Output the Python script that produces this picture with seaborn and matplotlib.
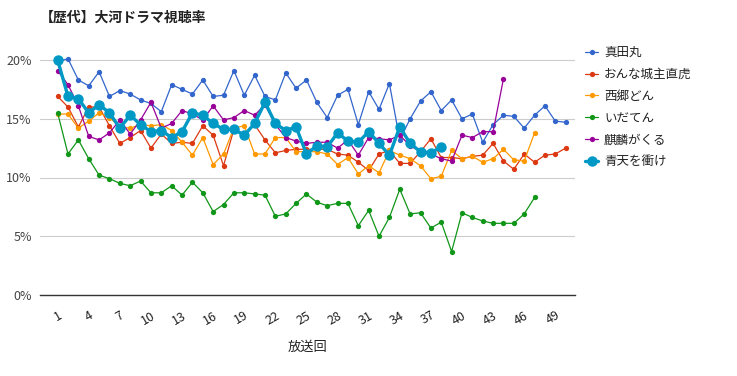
import numpy as np
import pandas as pd
import matplotlib
matplotlib.use('Agg')
import matplotlib.pyplot as plt
import seaborn as sns
from matplotlib.ticker import FuncFormatter, FixedLocator
from matplotlib.lines import Line2D

# 視聴率 (%) per episode
sanadamaru = [19.9, 20.1, 18.3, 17.8, 19.0, 16.9, 17.4, 17.1, 16.6, 16.3,
              15.6, 17.9, 17.5, 17.1, 18.3, 16.9, 17.0, 19.1, 17.0, 18.7,
              16.9, 16.6, 18.9, 17.6, 18.3, 16.4, 15.1, 17.0, 17.5, 14.5,
              17.3, 15.8, 18.0, 13.2, 15.0, 16.5, 17.3, 15.7, 16.6, 15.0,
              15.4, 13.0, 14.5, 15.3, 15.2, 14.2, 15.3, 16.1, 14.8, 14.7]
naotora = [16.9, 16.0, 14.3, 16.0, 16.0, 14.4, 12.9, 13.4, 14.0, 12.5,
           13.7, 12.9, 13.0, 12.9, 14.4, 13.6, 11.0, 14.1, 13.6, 14.5,
           13.2, 12.1, 12.3, 12.4, 12.4, 12.4, 12.4, 12.0, 11.9, 11.3,
           10.6, 12.0, 12.3, 11.2, 11.2, 12.2, 13.3, 11.7, 11.7, 11.6,
           11.8, 11.9, 12.9, 11.4, 10.7, 12.0, 11.3, 11.9, 12.0, 12.5]
segodon = [15.4, 15.4, 14.2, 14.8, 15.5, 15.1, 14.3, 14.2, 14.5, 14.4,
           14.5, 14.0, 13.0, 11.9, 13.4, 11.1, 12.0, 14.2, 14.4, 12.0,
           12.0, 13.4, 13.4, 12.2, 12.2, 12.2, 12.0, 11.1, 11.7, 10.3,
           11.0, 10.4, 12.3, 11.9, 11.6, 11.0, 9.9, 10.1, 12.3, 11.6,
           11.8, 11.3, 11.6, 12.4, 11.5, 11.4, 13.8]
idaten = [15.5, 12.0, 13.2, 11.6, 10.2, 9.9, 9.5, 9.3, 9.7, 8.7,
          8.7, 9.3, 8.5, 9.6, 8.7, 7.1, 7.7, 8.7, 8.7, 8.6,
          8.5, 6.7, 6.9, 7.8, 8.6, 7.9, 7.6, 7.8, 7.8, 5.9,
          7.2, 5.0, 6.6, 9.0, 6.9, 7.0, 5.7, 6.2, 3.7, 7.0,
          6.6, 6.3, 6.1, 6.1, 6.1, 6.9, 8.3]
kirin = [19.1, 17.9, 16.1, 13.5, 13.2, 13.8, 14.9, 13.7, 14.9, 16.4,
         14.2, 14.6, 15.7, 15.4, 14.9, 16.1, 14.9, 15.1, 15.7, 15.3,
         16.2, 14.5, 13.4, 13.1, 12.9, 13.0, 13.0, 12.5, 13.2, 11.9,
         13.4, 13.3, 13.2, 13.6, 12.7, 12.2, 12.0, 11.6, 11.4, 13.6,
         13.4, 13.9, 13.9, 18.4]
seiten = [20.0, 16.9, 16.7, 15.5, 16.2, 15.5, 14.2, 15.3, 14.5, 13.9,
          14.0, 13.4, 13.9, 15.5, 15.3, 14.6, 14.1, 14.1, 13.6, 14.6,
          16.4, 14.6, 14.0, 14.3, 12.0, 12.7, 12.6, 13.8, 13.1, 13.0,
          13.9, 12.9, 11.9, 14.3, 12.9, 12.2, 12.1, 12.6]

dramas = ['真田丸', 'おんな城主直虎', '西郷どん', 'いだてん', '麒麟がくる', '青天を衝け']
series = [sanadamaru, naotora, segodon, idaten, kirin, seiten]
colors = ['#3366cc', '#dc3912', '#ff9900', '#109618', '#990099', '#0099c6']
xticks = list(range(1, 50, 3))

frames = []
for name, vals in zip(dramas, series):
    frames.append(pd.DataFrame({'放送回': np.arange(1, len(vals) + 1),
                                '視聴率': vals, 'ドラマ': name}))
df = pd.concat(frames, ignore_index=True)

sns.set_theme(style='white')
plt.rcParams['font.family'] = ['Noto Sans CJK JP', 'DejaVu Sans']

fig = plt.figure(figsize=(7.37, 3.76), dpi=100)
ax = fig.add_axes([40 / 737, 81 / 376, 535 / 737, 258.5 / 376])

handles = []
for i, (name, color) in enumerate(zip(dramas, colors)):
    big = name == '青天を衝け'
    lw = 2.4 if big else 0.9
    ms = 7.5 if big else 3.8
    sns.lineplot(data=df[df['ドラマ'] == name], x='放送回', y='視聴率',
                 color=color, marker='o', linewidth=lw, markersize=ms,
                 markeredgewidth=0, ax=ax, legend=False, zorder=3 + i)
    handles.append(Line2D([0], [0], color=color, lw=lw, marker='o',
                          markersize=ms, markeredgewidth=0))

ax.set_xlim(-0.7, 50.9)
ax.set_ylim(0, 22)
ax.yaxis.set_major_locator(FixedLocator([0, 5, 10, 15, 20]))
ax.yaxis.set_major_formatter(FuncFormatter(lambda v, p: f'{v:.0f}%'))
ax.set_xticks(xticks)
ax.set_xticklabels([str(t) for t in xticks], rotation=30, ha='right',
                   rotation_mode='anchor')
ax.tick_params(axis='both', length=0, labelsize=9, colors='#444444')
ax.tick_params(axis='x', pad=10, colors='#222222')
ax.tick_params(axis='y', pad=6)
ax.yaxis.grid(True, color='#cccccc', lw=0.8)
ax.set_axisbelow(True)
for s in ['top', 'right', 'left']:
    ax.spines[s].set_visible(False)
ax.spines['bottom'].set_color('#333333')
ax.spines['bottom'].set_linewidth(1)

ax.set_xlabel('放送回', fontsize=9.5, color='#222222', labelpad=10)
ax.set_ylabel('')

fig.text(40 / 737, 1 - 18 / 376, '【歴代】大河ドラマ視聴率', fontsize=10,
         fontweight='bold', color='#222222', va='center', ha='left')

fig.legend(handles, dramas, loc='upper left',
           bbox_to_anchor=(574 / 737, 1 - 35 / 376), frameon=False,
           fontsize=9, handlelength=1.0, labelspacing=0.7,
           handletextpad=0.5, labelcolor='#222222')

fig.savefig('out.png', dpi=100)
